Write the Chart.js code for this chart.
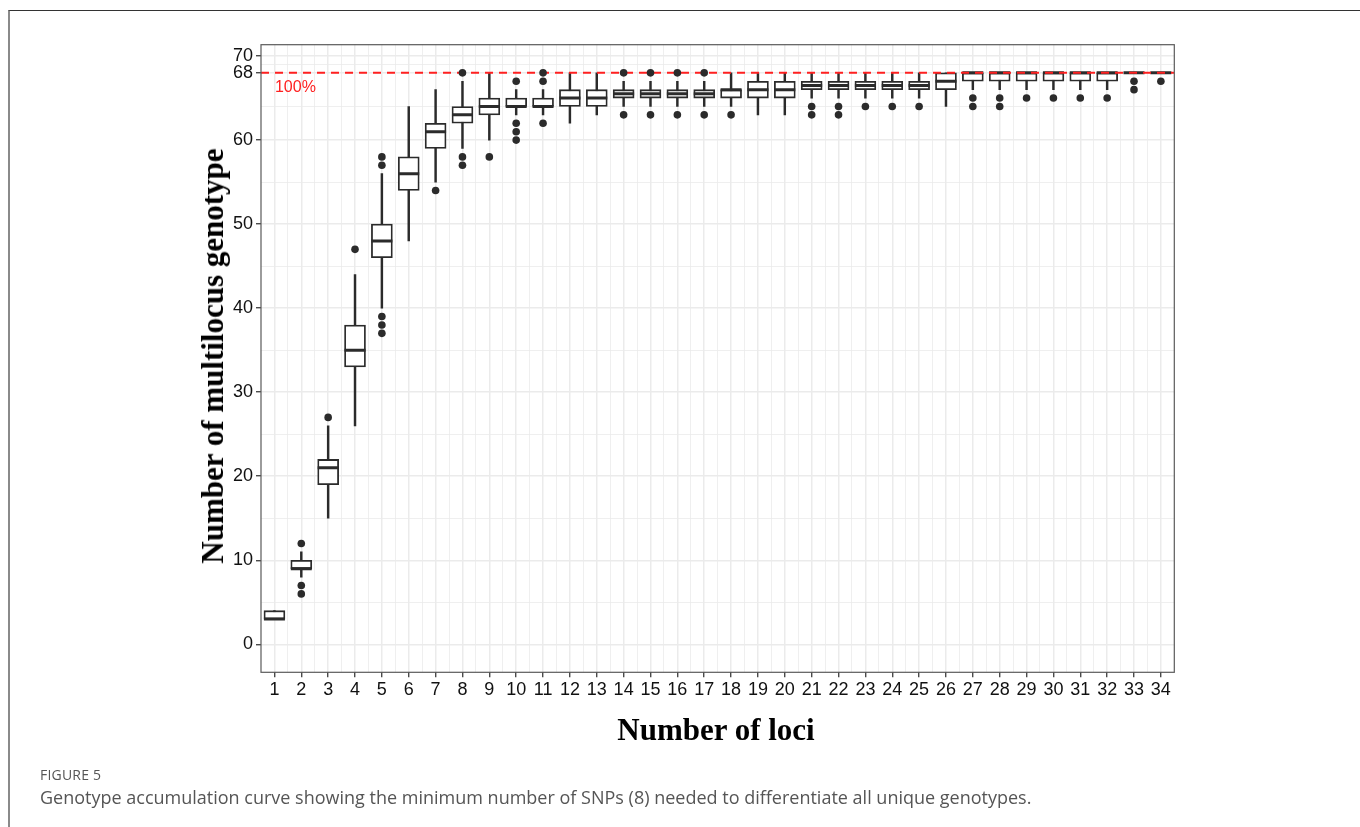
<!DOCTYPE html>
<html>
<head>
<meta charset="utf-8">
<title>Genotype accumulation curve</title>
<script src="https://cdn.jsdelivr.net/npm/chart.js@4.4.0/dist/chart.umd.min.js"></script>
<style>
  html, body { margin: 0; padding: 0; background: #fff; }
  body { width: 1360px; height: 827px; position: relative; overflow: hidden; }
  #frame { position: absolute; left: 8px; top: 10px; width: 1360px; height: 830px;
           border-top: 1px solid #333; border-left: 2px solid #8a8a8a; }
  #chart { position: absolute; left: 0; top: 0; }
  .ytitle { position: absolute; left: 213px; top: 356px; transform: translate(-50%, -50%) rotate(-90deg);
            font: bold 31px "Liberation Serif", "DejaVu Serif", serif; color: #000; white-space: nowrap; }
  .xtitle { position: absolute; left: 716px; top: 730px; transform: translate(-50%, -50%);
            font: bold 31px "Liberation Serif", "DejaVu Serif", serif; color: #000; white-space: nowrap; }
  .figlabel { position: absolute; left: 40px; top: 765px; font: 14px "Open Sans", sans-serif; color: #555; letter-spacing: 0.2px; }
  .caption { position: absolute; left: 40px; top: 785px; font: 18px "Open Sans", sans-serif; color: #555; white-space: nowrap; }
</style>
</head>
<body>
<div id="frame"></div>
<canvas id="chart" width="1360" height="827"></canvas>
<div class="ytitle">Number of multilocus genotype</div>
<div class="xtitle">Number of loci</div>
<div class="figlabel">FIGURE 5</div>
<div class="caption">Genotype accumulation curve showing the minimum number of SNPs (8) needed to differentiate all unique genotypes.</div>
<script>
// Number of loci sampled (x categories)
const lociLabels = ['1','2','3','4','5','6','7','8','9','10','11','12','13','14','15','16','17',
                    '18','19','20','21','22','23','24','25','26','27','28','29','30','31','32','33','34'];

// Box-plot summaries of the number of multilocus genotypes per locus count
const whiskerLow  = [3, 8, 15, 26, 40, 48, 55, 59, 60, 63, 63, 62, 63, 64, 64, 64, 64,
                     64, 63, 63, 65, 65, 65, 65, 65, 64, 66, 66, 66, 66, 66, 66, 68, 68];
const q1          = [3, 9, 19, 33, 46, 54, 59, 62, 63, 64, 64, 64, 64, 65, 65, 65, 65,
                     65, 65, 65, 66, 66, 66, 66, 66, 66, 67, 67, 67, 67, 67, 67, 68, 68];
const median      = [3, 9, 21, 35, 48, 56, 61, 63, 64, 64, 64, 65, 65, 65.5, 65.5, 65.5, 65.5,
                     66, 66, 66, 66.5, 66.5, 66.5, 66.5, 66.5, 67, 68, 68, 68, 68, 68, 68, 68, 68];
const q3          = [4, 10, 22, 38, 50, 58, 62, 64, 65, 65, 65, 66, 66, 66, 66, 66, 66,
                     66, 67, 67, 67, 67, 67, 67, 67, 68, 68, 68, 68, 68, 68, 68, 68, 68];
const whiskerHigh = [4, 11, 26, 44, 56, 64, 66, 67, 68, 66, 66, 68, 68, 67, 67, 67, 67,
                     68, 68, 68, 68, 68, 68, 68, 68, 68, 68, 68, 68, 68, 68, 68, 68, 68];
const outliers    = [[], [12, 7, 6], [27], [47], [58, 57, 39, 38, 37], [], [54], [68, 58, 57],
                     [58], [67, 62, 61, 60], [68, 67, 62], [], [], [68, 63], [68, 63], [68, 63],
                     [68, 63], [63], [], [], [64, 63], [64, 63], [64], [64], [64], [],
                     [65, 64], [65, 64], [65], [65], [65], [65], [67, 66], [67]];

// Total number of distinct genotypes (100 % level)
const totalGenotypes = 68;

// Axis breaks
const yMajorTicks = [0, 10, 20, 30, 40, 50, 60, 68, 70];
const yMinorTicks = [5, 15, 25, 35, 45, 55, 64, 69];

const INK = '#2b2b2b';
const GRID = '#ebebeb';

const pos = i => i + 1;
const whiskerData = lociLabels.map((l, i) => ({ x: pos(i), y: [whiskerLow[i], whiskerHigh[i]] }));
const boxData     = lociLabels.map((l, i) => ({ x: pos(i), y: [q1[i], q3[i]] }));
const medianData  = lociLabels.map((l, i) => ({ x: pos(i), y: median[i] }));
const outlierData = outliers.flatMap((vals, i) => vals.map(v => ({ x: pos(i), y: v })));

const xTickValues = [];
for (let i = 1; i <= lociLabels.length; i++) {
  xTickValues.push(i);
  if (i < lociLabels.length) xTickValues.push(i + 0.5);
}
const yTickValues = [...yMajorTicks, ...yMinorTicks].sort((a, b) => a - b);

const isMajorY = v => yMajorTicks.includes(v);
const isMajorX = v => Number.isInteger(v);

const TICK_FONT = { family: 'Liberation Sans, Arial, sans-serif', size: 18 };

// Panel border and the "100%" note
const panelPlugin = {
  id: 'panel',
  afterDatasetsDraw(chart) {
    const { ctx, chartArea: a, scales } = chart;
    ctx.save();
    ctx.fillStyle = '#ff1f1f';
    ctx.font = '16px Liberation Sans, Arial, sans-serif';
    ctx.textAlign = 'left';
    ctx.textBaseline = 'middle';
    ctx.fillText('100%', scales.x.getPixelForValue(1) + 0.5, scales.y.getPixelForValue(totalGenotypes) + 15);
    ctx.strokeStyle = '#5a5a5a';
    ctx.lineWidth = 1.2;
    ctx.strokeRect(a.left, a.top, a.right - a.left, a.bottom - a.top);
    ctx.restore();
  }
};

new Chart(document.getElementById('chart'), {
  type: 'bar',
  data: {
    datasets: [
      { type: 'bar', label: 'whisker', data: whiskerData, grouped: false, order: 5,
        backgroundColor: INK, borderWidth: 0, barThickness: 1.8 },
      { type: 'bar', label: 'box', data: boxData, grouped: false, order: 4,
        backgroundColor: '#ffffff', borderColor: INK, borderWidth: 1.8, borderSkipped: false, barThickness: 21 },
      { type: 'scatter', label: 'median', data: medianData, order: 3,
        pointStyle: 'line', pointRadius: 10.5, pointBorderWidth: 3, borderColor: INK, pointHoverRadius: 10.5 },
      { type: 'line', label: '100%', data: [{ x: 0.5, y: totalGenotypes }, { x: 34.5, y: totalGenotypes }], order: 2,
        borderColor: '#ff2020', borderWidth: 2, borderDash: [8, 6], pointRadius: 0, fill: false },
      { type: 'scatter', label: 'outlier', data: outlierData, order: 1,
        pointStyle: 'circle', pointRadius: 3.8, backgroundColor: INK, borderColor: INK, borderWidth: 0 }
    ]
  },
  options: {
    responsive: false,
    animation: false,
    events: [],
    layout: { padding: { left: 0, top: 44.7, right: 185.7, bottom: 0 } },
    plugins: { legend: { display: false }, tooltip: { enabled: false } },
    scales: {
      x: {
        type: 'linear', min: 0.5, max: 34.5, offset: false,
        afterBuildTicks: s => { s.ticks = xTickValues.map(v => ({ value: v })); },
        afterFit: s => { s.height = 827 - 672.3; },
        border: { display: false },
        grid: {
          offset: false, drawOnChartArea: true, drawTicks: true, tickLength: 5,
          color: GRID,
          lineWidth: c => (c.tick && isMajorX(c.tick.value)) ? 1.5 : 0.8,
          tickColor: c => (c.tick && isMajorX(c.tick.value)) ? INK : 'rgba(0,0,0,0)',
          tickWidth: 1.2
        },
        ticks: {
          autoSkip: false, maxRotation: 0, padding: 2, color: '#111',
          font: TICK_FONT,
          callback: v => isMajorX(v) ? lociLabels[v - 1] : ''
        }
      },
      y: {
        type: 'linear', min: -3.33, max: 71.35,
        afterBuildTicks: s => { s.ticks = yTickValues.map(v => ({ value: v })); },
        afterFit: s => { s.width = 261; },
        border: { display: false },
        grid: {
          drawTicks: true, tickLength: 5,
          color: GRID,
          lineWidth: c => (c.tick && isMajorY(c.tick.value)) ? 1.5 : 0.8,
          tickColor: c => (c.tick && isMajorY(c.tick.value)) ? INK : 'rgba(0,0,0,0)',
          tickWidth: 1.2
        },
        ticks: {
          autoSkip: false, padding: 3, color: '#111',
          font: TICK_FONT,
          callback: v => isMajorY(v) ? String(v) : ''
        }
      }
    }
  },
  plugins: [panelPlugin]
});
</script>
</body>
</html>
